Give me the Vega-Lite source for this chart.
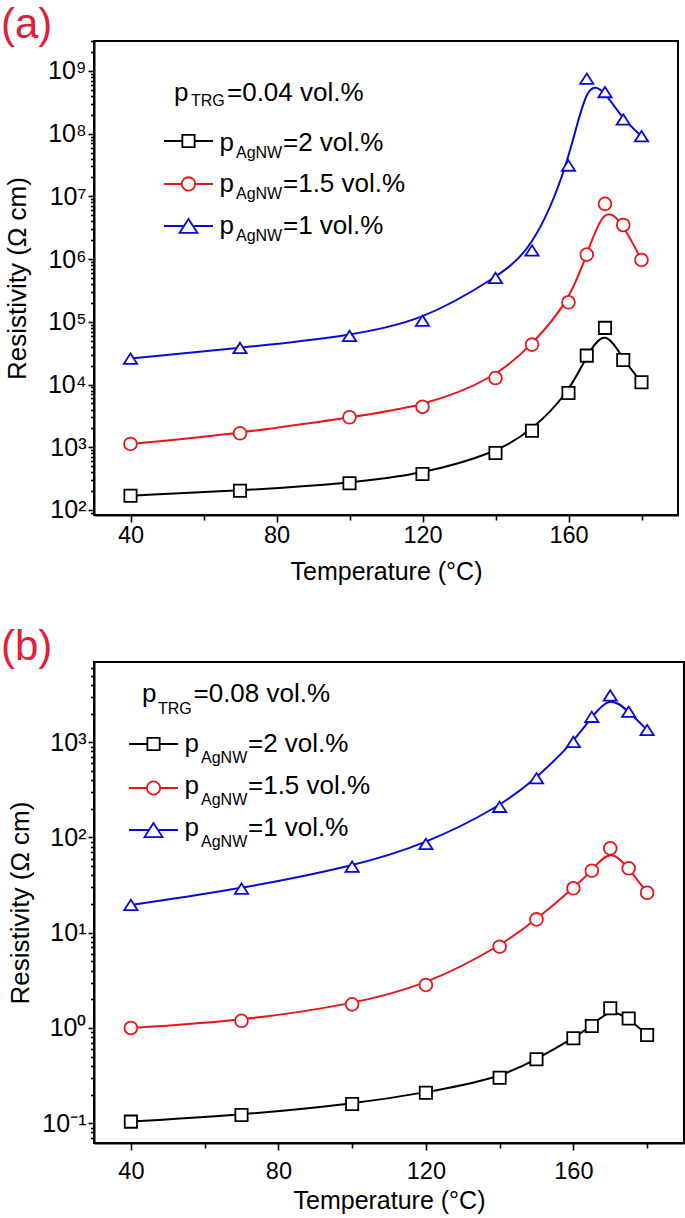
{
  "$schema": "https://vega.github.io/schema/vega-lite/v6.json",
  "padding": {"left": 0, "top": 3, "right": 0, "bottom": 0},
  "spacing": 39,
  "config": {
    "font": "Liberation Sans",
    "view": {"stroke": "black", "strokeWidth": 2},
    "axis": {
      "grid": false,
      "ticks": true,
      "domainColor": "black",
      "domainWidth": 2,
      "tickColor": "black",
      "tickWidth": 1.6,
      "labelColor": "black",
      "titleColor": "black",
      "labelFont": "Liberation Sans",
      "titleFont": "Liberation Sans",
      "labelFontSize": 23.5,
      "titleFontSize": 25,
      "titleFontWeight": "normal",
      "labelOverlap": false,
      "labelBound": false,
      "labelFlush": false
    },
    "text": {"font": "Liberation Sans", "color": "black"}
  },
  "datasets": {
    "a": [
      {"series": "2", "T": 40, "R": 169}, {"series": "2", "T": 70, "R": 203}, {"series": "2", "T": 100, "R": 267},
      {"series": "2", "T": 120, "R": 375}, {"series": "2", "T": 140, "R": 811}, {"series": "2", "T": 150, "R": 1840},
      {"series": "2", "T": 160, "R": 7350}, {"series": "2", "T": 165, "R": 28900}, {"series": "2", "T": 170, "R": 80000},
      {"series": "2", "T": 175, "R": 24700}, {"series": "2", "T": 180, "R": 10900},
      {"series": "1.5", "T": 40, "R": 1130}, {"series": "1.5", "T": 70, "R": 1670}, {"series": "1.5", "T": 100, "R": 3010},
      {"series": "1.5", "T": 120, "R": 4430}, {"series": "1.5", "T": 140, "R": 12700}, {"series": "1.5", "T": 150, "R": 43300},
      {"series": "1.5", "T": 160, "R": 205000}, {"series": "1.5", "T": 165, "R": 1180000}, {"series": "1.5", "T": 170, "R": 7600000},
      {"series": "1.5", "T": 175, "R": 3500000}, {"series": "1.5", "T": 180, "R": 970000},
      {"series": "1", "T": 40, "R": 25900}, {"series": "1", "T": 70, "R": 38300}, {"series": "1", "T": 100, "R": 59600},
      {"series": "1", "T": 120, "R": 104000}, {"series": "1", "T": 140, "R": 500000}, {"series": "1", "T": 150, "R": 1370000},
      {"series": "1", "T": 160, "R": 31000000}, {"series": "1", "T": 165, "R": 750000000}, {"series": "1", "T": 170, "R": 460000000},
      {"series": "1", "T": 175, "R": 168000000}, {"series": "1", "T": 180, "R": 91000000}
    ],
    "b": [
      {"series": "2", "T": 40, "R": 0.104}, {"series": "2", "T": 70, "R": 0.122}, {"series": "2", "T": 100, "R": 0.159},
      {"series": "2", "T": 120, "R": 0.209}, {"series": "2", "T": 140, "R": 0.3}, {"series": "2", "T": 150, "R": 0.469},
      {"series": "2", "T": 160, "R": 0.78}, {"series": "2", "T": 165, "R": 1.05}, {"series": "2", "T": 170, "R": 1.61},
      {"series": "2", "T": 175, "R": 1.26}, {"series": "2", "T": 180, "R": 0.845},
      {"series": "1.5", "T": 40, "R": 1.0}, {"series": "1.5", "T": 70, "R": 1.19}, {"series": "1.5", "T": 100, "R": 1.77},
      {"series": "1.5", "T": 120, "R": 2.83}, {"series": "1.5", "T": 140, "R": 7.14}, {"series": "1.5", "T": 150, "R": 13.8},
      {"series": "1.5", "T": 160, "R": 29.3}, {"series": "1.5", "T": 165, "R": 44.8}, {"series": "1.5", "T": 170, "R": 77},
      {"series": "1.5", "T": 175, "R": 47.5}, {"series": "1.5", "T": 180, "R": 26.3},
      {"series": "1", "T": 40, "R": 19.6}, {"series": "1", "T": 70, "R": 29}, {"series": "1", "T": 100, "R": 49.4},
      {"series": "1", "T": 120, "R": 85.5}, {"series": "1", "T": 140, "R": 210}, {"series": "1", "T": 150, "R": 419},
      {"series": "1", "T": 160, "R": 1007}, {"series": "1", "T": 165, "R": 1850}, {"series": "1", "T": 170, "R": 3100},
      {"series": "1", "T": 175, "R": 2090}, {"series": "1", "T": 180, "R": 1345}
    ]
  },
  "vconcat": [
    {
      "width": 584,
      "height": 474,
      "title": {"text": "(a)", "anchor": "start", "frame": "group", "fontSize": 42, "fontWeight": "normal", "color": "#e0203a", "font": "Liberation Sans", "dx": -93, "offset": -7},
      "resolve": {"axis": {"x": "independent", "y": "independent"}},
      "layer": [
        {
          "data": {"name": "a"},
          "mark": {"type": "line", "interpolate": "basis", "strokeWidth": 2},
          "encoding": {
            "x": {"field": "T", "type": "quantitative",
              "scale": {"domain": [30, 190], "nice": false, "zero": false},
              "axis": {"orient": "bottom", "title": "Temperature (°C)", "values": [40, 80, 120, 160],
                "tickSize": 7, "labelPadding": 1, "titlePadding": 13}},
            "y": {"field": "R", "type": "quantitative",
              "scale": {"type": "log", "domain": [83.2, 3000000000], "nice": false},
              "axis": {"orient": "left", "title": "Resistivity (Ω cm)", "titleFontSize": 26, "labelFontSize": 25,
                "values": [100, 1000, 10000, 100000, 1000000, 10000000, 100000000, 1000000000],
                "labelExpr": "'10' + (datum.value < 1 ? '⁻' + substring('⁰¹²³⁴⁵⁶⁷⁸⁹', -round(log(datum.value)/LN10), -round(log(datum.value)/LN10) + 1) : substring('⁰¹²³⁴⁵⁶⁷⁸⁹', round(log(datum.value)/LN10), round(log(datum.value)/LN10) + 1))",
                "tickSize": 6, "labelPadding": 2, "titlePadding": 16.5}},
            "color": {"field": "series", "type": "nominal", "scale": {"domain": ["2", "1.5", "1"], "range": ["#000000", "#e8161b", "#0a0ad8"]}, "legend": null}
          }
        },
        {
          "data": {"name": "a"},
          "mark": {"type": "point", "filled": true, "fill": "white", "strokeWidth": 1.8, "opacity": 1},
          "encoding": {
            "x": {"field": "T", "type": "quantitative",
              "axis": {"orient": "bottom", "title": null, "labels": false, "domain": false, "values": [60, 100, 140, 180], "tickSize": 5}},
            "y": {"field": "R", "type": "quantitative",
              "axis": {"orient": "left", "title": null, "labels": false, "domain": false, "tickSize": 3.5,
                "values": [90, 200, 300, 400, 500, 600, 700, 800, 900, 2000, 3000, 4000, 5000, 6000, 7000, 8000, 9000, 20000, 30000, 40000, 50000, 60000, 70000, 80000, 90000, 200000, 300000, 400000, 500000, 600000, 700000, 800000, 900000, 2000000, 3000000, 4000000, 5000000, 6000000, 7000000, 8000000, 9000000, 20000000, 30000000, 40000000, 50000000, 60000000, 70000000, 80000000, 90000000, 200000000, 300000000, 400000000, 500000000, 600000000, 700000000, 800000000, 900000000, 2000000000, 3000000000]}},
            "stroke": {"field": "series", "type": "nominal", "scale": {"domain": ["2", "1.5", "1"], "range": ["#000000", "#e8161b", "#0a0ad8"]}, "legend": null},
            "shape": {"field": "series", "type": "nominal", "scale": {"domain": ["2", "1.5", "1"], "range": ["square", "circle", "M0,-0.78L1,0.78L-1,0.78Z"]}, "legend": null},
            "size": {"field": "series", "type": "nominal", "scale": {"domain": ["2", "1.5", "1"], "range": [150, 177, 324]}, "legend": null}
          }
        },
        {"data": {"values": [{}]}, "mark": {"type": "text", "text": "p", "fontSize": 26, "align": "left", "baseline": "alphabetic"},
          "encoding": {"x": {"datum": 51.92, "type": "quantitative", "axis": null}, "y": {"datum": 333000000, "type": "quantitative", "axis": null}}},
        {"data": {"values": [{}]}, "mark": {"type": "text", "text": "TRG", "fontSize": 16, "align": "left", "baseline": "alphabetic", "dy": 5},
          "encoding": {"x": {"datum": 56.58, "type": "quantitative", "axis": null}, "y": {"datum": 333000000, "type": "quantitative", "axis": null}}},
        {"data": {"values": [{}]}, "mark": {"type": "text", "text": "=0.04 vol.%", "fontSize": 26, "align": "left", "baseline": "alphabetic"},
          "encoding": {"x": {"datum": 66.44, "type": "quantitative", "axis": null}, "y": {"datum": 333000000, "type": "quantitative", "axis": null}}},
        {"data": {"values": [{}]}, "mark": {"type": "rule", "color": "#000000", "strokeWidth": 2},
          "encoding": {"x": {"datum": 49.18, "type": "quantitative", "axis": null}, "x2": {"datum": 62.6}, "y": {"datum": 76600000, "type": "quantitative", "axis": null}}},
        {"data": {"values": [{}]}, "mark": {"type": "rule", "color": "#e8161b", "strokeWidth": 2},
          "encoding": {"x": {"datum": 49.18, "type": "quantitative", "axis": null}, "x2": {"datum": 62.6}, "y": {"datum": 15800000, "type": "quantitative", "axis": null}}},
        {"data": {"values": [{}]}, "mark": {"type": "rule", "color": "#0a0ad8", "strokeWidth": 2},
          "encoding": {"x": {"datum": 49.18, "type": "quantitative", "axis": null}, "x2": {"datum": 62.6}, "y": {"datum": 3380000, "type": "quantitative", "axis": null}}},
        {"data": {"values": [{}]}, "mark": {"type": "point", "shape": "square", "size": 150, "filled": true, "fill": "white", "stroke": "#000000", "strokeWidth": 1.8, "opacity": 1},
          "encoding": {"x": {"datum": 55.89, "type": "quantitative", "axis": null}, "y": {"datum": 76600000, "type": "quantitative", "axis": null}}},
        {"data": {"values": [{}]}, "mark": {"type": "point", "shape": "circle", "size": 177, "filled": true, "fill": "white", "stroke": "#e8161b", "strokeWidth": 1.8, "opacity": 1},
          "encoding": {"x": {"datum": 55.89, "type": "quantitative", "axis": null}, "y": {"datum": 15800000, "type": "quantitative", "axis": null}}},
        {"data": {"values": [{}]}, "mark": {"type": "point", "shape": "M0,-0.78L1,0.78L-1,0.78Z", "size": 324, "filled": true, "fill": "white", "stroke": "#0a0ad8", "strokeWidth": 1.8, "opacity": 1},
          "encoding": {"x": {"datum": 55.89, "type": "quantitative", "axis": null}, "y": {"datum": 3380000, "type": "quantitative", "axis": null}}},
        {"data": {"values": [{}]}, "mark": {"type": "text", "text": ["p", "p", "p"], "lineHeight": 41.5, "fontSize": 26, "align": "left", "baseline": "alphabetic"},
          "encoding": {"x": {"datum": 64.38, "type": "quantitative", "axis": null}, "y": {"datum": 53100000, "type": "quantitative", "axis": null}}},
        {"data": {"values": [{}]}, "mark": {"type": "text", "text": ["AgNW", "AgNW", "AgNW"], "lineHeight": 41.5, "fontSize": 16, "align": "left", "baseline": "alphabetic", "dy": 7},
          "encoding": {"x": {"datum": 68.9, "type": "quantitative", "axis": null}, "y": {"datum": 53100000, "type": "quantitative", "axis": null}}},
        {"data": {"values": [{}]}, "mark": {"type": "text", "text": ["=2 vol.%", "=1.5 vol.%", "=1 vol.%"], "lineHeight": 41.5, "fontSize": 26, "align": "left", "baseline": "alphabetic"},
          "encoding": {"x": {"datum": 81.78, "type": "quantitative", "axis": null}, "y": {"datum": 53100000, "type": "quantitative", "axis": null}}}
      ]
    },
    {
      "width": 590,
      "height": 481,
      "title": {"text": "(b)", "anchor": "start", "frame": "group", "fontSize": 42, "fontWeight": "normal", "color": "#e0203a", "font": "Liberation Sans", "dx": -93, "offset": -7},
      "resolve": {"axis": {"x": "independent", "y": "independent"}},
      "layer": [
        {
          "data": {"name": "b"},
          "mark": {"type": "line", "interpolate": "basis", "strokeWidth": 2},
          "encoding": {
            "x": {"field": "T", "type": "quantitative",
              "scale": {"domain": [30, 190], "nice": false, "zero": false},
              "axis": {"orient": "bottom", "title": "Temperature (°C)", "values": [40, 80, 120, 160],
                "tickSize": 7, "labelPadding": 9, "titlePadding": 5.5}},
            "y": {"field": "R", "type": "quantitative",
              "scale": {"type": "log", "domain": [0.062, 6960], "nice": false},
              "axis": {"orient": "left", "title": "Resistivity (Ω cm)", "titleFontSize": 26, "labelFontSize": 25,
                "values": [0.1, 1, 10, 100, 1000],
                "labelExpr": "'10' + (datum.value < 1 ? '⁻' + substring('⁰¹²³⁴⁵⁶⁷⁸⁹', -round(log(datum.value)/LN10), -round(log(datum.value)/LN10) + 1) : substring('⁰¹²³⁴⁵⁶⁷⁸⁹', round(log(datum.value)/LN10), round(log(datum.value)/LN10) + 1))",
                "tickSize": 6, "labelPadding": 2, "titlePadding": 8}},
            "color": {"field": "series", "type": "nominal", "scale": {"domain": ["2", "1.5", "1"], "range": ["#000000", "#e8161b", "#0a0ad8"]}, "legend": null}
          }
        },
        {
          "data": {"name": "b"},
          "mark": {"type": "point", "filled": true, "fill": "white", "strokeWidth": 1.8, "opacity": 1},
          "encoding": {
            "x": {"field": "T", "type": "quantitative",
              "axis": {"orient": "bottom", "title": null, "labels": false, "domain": false, "values": [60, 100, 140, 180], "tickSize": 5}},
            "y": {"field": "R", "type": "quantitative",
              "axis": {"orient": "left", "title": null, "labels": false, "domain": false, "tickSize": 3.5,
                "values": [0.07, 0.08, 0.09, 0.2, 0.3, 0.4, 0.5, 0.6, 0.7, 0.8, 0.9, 2, 3, 4, 5, 6, 7, 8, 9, 20, 30, 40, 50, 60, 70, 80, 90, 200, 300, 400, 500, 600, 700, 800, 900, 2000, 3000, 4000, 5000, 6000]}},
            "stroke": {"field": "series", "type": "nominal", "scale": {"domain": ["2", "1.5", "1"], "range": ["#000000", "#e8161b", "#0a0ad8"]}, "legend": null},
            "shape": {"field": "series", "type": "nominal", "scale": {"domain": ["2", "1.5", "1"], "range": ["square", "circle", "M0,-0.78L1,0.78L-1,0.78Z"]}, "legend": null},
            "size": {"field": "series", "type": "nominal", "scale": {"domain": ["2", "1.5", "1"], "range": [150, 177, 324]}, "legend": null}
          }
        },
        {"data": {"values": [{}]}, "mark": {"type": "text", "text": "p", "fontSize": 26, "align": "left", "baseline": "alphabetic"},
          "encoding": {"x": {"datum": 43.02, "type": "quantitative", "axis": null}, "y": {"datum": 2646, "type": "quantitative", "axis": null}}},
        {"data": {"values": [{}]}, "mark": {"type": "text", "text": "TRG", "fontSize": 16, "align": "left", "baseline": "alphabetic", "dy": 12},
          "encoding": {"x": {"datum": 47.36, "type": "quantitative", "axis": null}, "y": {"datum": 2646, "type": "quantitative", "axis": null}}},
        {"data": {"values": [{}]}, "mark": {"type": "text", "text": "=0.08 vol.%", "fontSize": 26, "align": "left", "baseline": "alphabetic"},
          "encoding": {"x": {"datum": 56.98, "type": "quantitative", "axis": null}, "y": {"datum": 2646, "type": "quantitative", "axis": null}}},
        {"data": {"values": [{}]}, "mark": {"type": "rule", "color": "#000000", "strokeWidth": 2},
          "encoding": {"x": {"datum": 39.49, "type": "quantitative", "axis": null}, "x2": {"datum": 52.78}, "y": {"datum": 958.6, "type": "quantitative", "axis": null}}},
        {"data": {"values": [{}]}, "mark": {"type": "rule", "color": "#e8161b", "strokeWidth": 2},
          "encoding": {"x": {"datum": 39.49, "type": "quantitative", "axis": null}, "x2": {"datum": 52.78}, "y": {"datum": 330.9, "type": "quantitative", "axis": null}}},
        {"data": {"values": [{}]}, "mark": {"type": "rule", "color": "#0a0ad8", "strokeWidth": 2},
          "encoding": {"x": {"datum": 39.49, "type": "quantitative", "axis": null}, "x2": {"datum": 52.78}, "y": {"datum": 119.8, "type": "quantitative", "axis": null}}},
        {"data": {"values": [{}]}, "mark": {"type": "point", "shape": "square", "size": 150, "filled": true, "fill": "white", "stroke": "#000000", "strokeWidth": 1.8, "opacity": 1},
          "encoding": {"x": {"datum": 46.14, "type": "quantitative", "axis": null}, "y": {"datum": 958.6, "type": "quantitative", "axis": null}}},
        {"data": {"values": [{}]}, "mark": {"type": "point", "shape": "circle", "size": 177, "filled": true, "fill": "white", "stroke": "#e8161b", "strokeWidth": 1.8, "opacity": 1},
          "encoding": {"x": {"datum": 46.14, "type": "quantitative", "axis": null}, "y": {"datum": 330.9, "type": "quantitative", "axis": null}}},
        {"data": {"values": [{}]}, "mark": {"type": "point", "shape": "M0,-0.78L1,0.78L-1,0.78Z", "size": 324, "filled": true, "fill": "white", "stroke": "#0a0ad8", "strokeWidth": 1.8, "opacity": 1},
          "encoding": {"x": {"datum": 46.14, "type": "quantitative", "axis": null}, "y": {"datum": 119.8, "type": "quantitative", "axis": null}}},
        {"data": {"values": [{}]}, "mark": {"type": "text", "text": ["p", "p", "p"], "lineHeight": 42, "fontSize": 26, "align": "left", "baseline": "alphabetic"},
          "encoding": {"x": {"datum": 54.54, "type": "quantitative", "axis": null}, "y": {"datum": 790, "type": "quantitative", "axis": null}}},
        {"data": {"values": [{}]}, "mark": {"type": "text", "text": ["AgNW", "AgNW", "AgNW"], "lineHeight": 42, "fontSize": 16, "align": "left", "baseline": "alphabetic", "dy": 11},
          "encoding": {"x": {"datum": 59.02, "type": "quantitative", "axis": null}, "y": {"datum": 790, "type": "quantitative", "axis": null}}},
        {"data": {"values": [{}]}, "mark": {"type": "text", "text": ["=2 vol.%", "=1.5 vol.%", "=1 vol.%"], "lineHeight": 42, "fontSize": 26, "align": "left", "baseline": "alphabetic"},
          "encoding": {"x": {"datum": 71.76, "type": "quantitative", "axis": null}, "y": {"datum": 790, "type": "quantitative", "axis": null}}}
      ]
    }
  ]
}
